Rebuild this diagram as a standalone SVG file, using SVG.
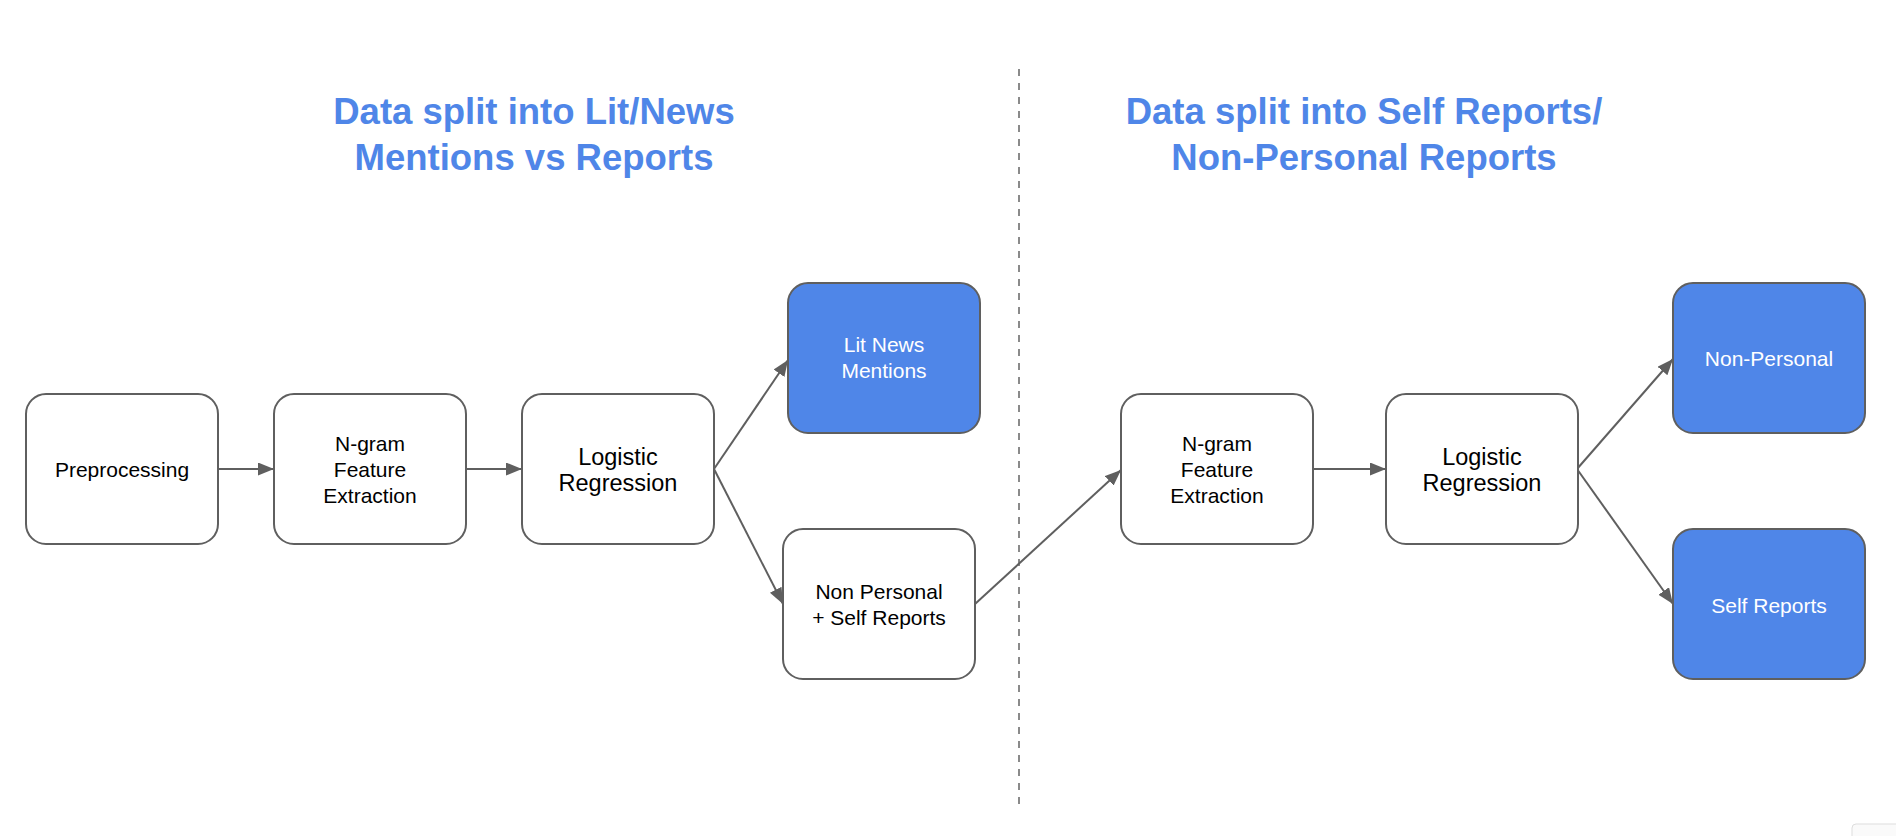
<svg xmlns="http://www.w3.org/2000/svg" width="1896" height="836" viewBox="0 0 1896 836">
<style>
.box{fill:#ffffff;stroke:#5f5f5f;stroke-width:2}
.out{fill:#4f86e8;stroke:#5f5f5f;stroke-width:2}
.t{font-family:"Liberation Sans",Arial,sans-serif;font-size:21px;fill:#000;text-anchor:middle}
.tl{font-family:"Liberation Sans",Arial,sans-serif;font-size:23.5px;fill:#000;text-anchor:middle}
.tw{font-family:"Liberation Sans",Arial,sans-serif;font-size:21px;fill:#ffffff;text-anchor:middle}
.title{font-family:"Liberation Sans",Arial,sans-serif;font-size:36.5px;font-weight:bold;fill:#4f86e8;text-anchor:middle}
.c{stroke:#5f5f5f;stroke-width:2;fill:none;marker-end:url(#ah)}
</style>
<defs>
<marker id="ah" markerUnits="userSpaceOnUse" markerWidth="18" markerHeight="14" refX="16" refY="6.5" orient="auto">
<path d="M0,0 L16,6.5 L0,13 z" fill="#5f5f5f"/>
</marker>
</defs>
<rect width="1896" height="836" fill="#ffffff"/>
<g id="titles">
<text class="title" x="534" y="124">Data split into Lit/News</text>
<text class="title" x="534" y="170">Mentions vs Reports</text>
<text class="title" x="1364" y="124">Data split into Self Reports/</text>
<text class="title" x="1364" y="170">Non-Personal Reports</text>
</g>
<line id="divider" x1="1019" y1="69" x2="1019" y2="804" stroke="#8a8a8a" stroke-width="2" stroke-dasharray="7,7"/>
<g id="connectors">
<line class="c" x1="218" y1="469" x2="274" y2="469"/>
<line class="c" x1="466" y1="469" x2="522" y2="469"/>
<line class="c" x1="714" y1="469" x2="788" y2="360"/>
<line class="c" x1="714" y1="469" x2="783" y2="604"/>
<line class="c" x1="975" y1="604" x2="1121" y2="470"/>
<line class="c" x1="1313" y1="469" x2="1386" y2="469"/>
<line class="c" x1="1577" y1="469" x2="1673" y2="359"/>
<line class="c" x1="1577" y1="469" x2="1673" y2="604"/>
</g>
<g id="preprocessing">
<rect class="box" x="26" y="394" width="192" height="150" rx="20"/>
<text class="t" x="122" y="477">Preprocessing</text>
</g>
<g id="ngram1">
<rect class="box" x="274" y="394" width="192" height="150" rx="20"/>
<text class="t" x="370" y="451">N-gram</text>
<text class="t" x="370" y="477">Feature</text>
<text class="t" x="370" y="503">Extraction</text>
</g>
<g id="logistic1">
<rect class="box" x="522" y="394" width="192" height="150" rx="20"/>
<text class="tl" x="618" y="465">Logistic</text>
<text class="tl" x="618" y="491">Regression</text>
</g>
<g id="litnews">
<rect class="out" x="788" y="283" width="192" height="150" rx="20"/>
<text class="tw" x="884" y="352">Lit News</text>
<text class="tw" x="884" y="378">Mentions</text>
</g>
<g id="nonpersonal-self">
<rect class="box" x="783" y="529" width="192" height="150" rx="20"/>
<text class="t" x="879" y="599">Non Personal</text>
<text class="t" x="879" y="625">+ Self Reports</text>
</g>
<g id="ngram2">
<rect class="box" x="1121" y="394" width="192" height="150" rx="20"/>
<text class="t" x="1217" y="451">N-gram</text>
<text class="t" x="1217" y="477">Feature</text>
<text class="t" x="1217" y="503">Extraction</text>
</g>
<g id="logistic2">
<rect class="box" x="1386" y="394" width="192" height="150" rx="20"/>
<text class="tl" x="1482" y="465">Logistic</text>
<text class="tl" x="1482" y="491">Regression</text>
</g>
<g id="nonpersonal">
<rect class="out" x="1673" y="283" width="192" height="150" rx="20"/>
<text class="tw" x="1769" y="366">Non-Personal</text>
</g>
<g id="selfreports">
<rect class="out" x="1673" y="529" width="192" height="150" rx="20"/>
<text class="tw" x="1769" y="613">Self Reports</text>
</g>
<rect x="1852" y="824" width="60" height="30" rx="4" fill="#fafafa" stroke="#dddddd" stroke-width="1"/>
</svg>
